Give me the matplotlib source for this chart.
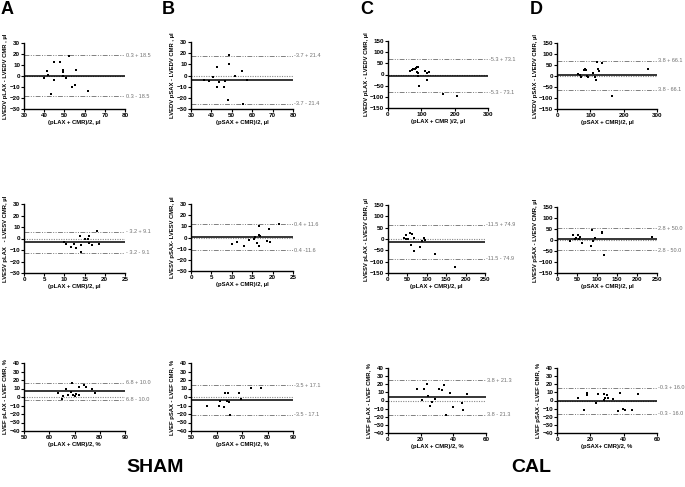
import matplotlib
matplotlib.use("Agg")
import matplotlib.pyplot as plt

plt.rcParams['font.family'] = ['Liberation Sans', 'DejaVu Sans']

W, H = 685, 487

# ---------------- data ----------------
# Row 1: LVEDV
A1_x = [39.7, 41.4, 41.7, 44.7, 44.9, 43.4, 47.8, 49.5, 49.5, 49.5, 50.8, 52.3, 53.9, 55.2, 55.9, 61.8]
A1_y = [-1.7, 4.1, 0.7, 12.8, -3.5, -16.7, 12.8, 5.3, 3.5, -0.2, -1.4, 18.2, -9.8, -8.3, 5.0, -13.4]
B1_x = [36.4, 38.7, 40.8, 42.9, 42.7, 43.9, 46.2, 46.9, 48.0, 48.5, 48.5, 51.6, 55.2, 55.5, 57.5]
B1_y = [-4.2, -4.5, -1.2, 7.5, -10.2, -6.0, -10.5, -5.1, -21.6, 18.3, 10.5, 0.0, 3.6, -25.8, -3.9]
C1_x = [65, 70.5, 75.5, 80.5, 83.6, 87.6, 90.6, 85.6, 90.6, 90.6, 93, 110.8, 117.8, 121.9, 115.8, 166, 208.5]
C1_y = [16.5, 18, 22.5, 25.5, 30, 31.5, 33, 12, 4.5, -4.5, -51, 15, 7.5, 10.5, -22.5, -87, -94.5]
D1_x = [63, 68.5, 71.5, 79.5, 83.6, 86.6, 88.6, 92.6, 108.8, 113.8, 116.8, 119.8, 121.8, 126.9, 133.9, 164, 272]
D1_y = [9, 3, -3, 27, 30, 27, -1.5, -6, 15, -6, -16.5, 62, 30, 21, 58, -89, 32]
# Row 2: LVESV
A2_x = [9.8, 10.4, 11.7, 12.4, 12.8, 13.9, 14.0, 14.1, 15.1, 15.8, 16.0, 16.2, 16.8, 18.0, 18.6]
A2_y = [-3.1, -4.8, -7.8, -4.8, -8.0, 2.5, -6.0, -11.6, -0.4, -0.4, 1.9, -4.2, -6.0, 6.3, -5.1]
B2_x = [10.0, 11.2, 12.9, 14.3, 15.5, 15.7, 16.6, 16.6, 16.8, 16.1, 16.6, 18.6, 19.4, 19.2, 21.5]
B2_y = [-6.1, -4.0, -7.8, -1.9, -1.0, 0.4, 10.2, 2.2, 1.0, -4.9, -7.5, -3.4, -4.3, 7.8, 12.0]
C2_x = [40, 46, 46, 51, 56, 62, 59, 66, 67, 83, 88, 93, 96, 121, 172]
C2_y = [5, 15.5, 0.7, -0.7, 26, 24, -26, -52, 5, -35, -11, 5, -5, -67, -123]
D2_x = [33.6, 40.3, 44.5, 48.7, 52.8, 57, 54.5, 63, 84.7, 88, 90, 95, 111.6, 111.6, 116.6, 237.4]
D2_y = [-3, 21, 4.5, 10.6, 22.7, 15, 4.5, -13.6, -27, 44, -3, 10.6, 38, 33, -70, 12]
# Row 3: LVEF
A3_x = [63.6, 65.2, 65.5, 66.7, 67.6, 68.7, 69.2, 69.6, 70.1, 70.5, 71.6, 71.7, 73.8, 74.5, 76.9, 78.2]
A3_y = [4.5, -2.2, 0.6, 9.7, 2.6, 5.3, 16.4, 2.6, 0.6, 4.1, 11.2, 2.2, 14.4, 11.2, 8.9, 4.5]
B3_x = [56.3, 60.8, 61.4, 63.1, 63.5, 64.6, 64.0, 65.0, 65.3, 69.0, 69.5, 73.6, 77.4]
B3_y = [-10.3, -11.1, -4.4, -12.3, 4.4, 5.1, -4.4, -6.3, -21.0, 4.4, -2.0, 10.3, 10.3]
C3_x = [17.6, 21.0, 22.0, 24.1, 24.5, 25.9, 27.1, 29.0, 31.4, 33.3, 34.5, 35.7, 38.2, 39.6, 45.3, 45.7, 48.4]
C3_y = [13.6, 0.2, 13.6, 20.9, 5.1, -6.3, -1.4, 1.4, 14.4, 12.4, 18.5, -18.1, 9.5, -7.5, -3.0, -11.6, 7.5]
D3_x = [12.3, 16.3, 18.1, 18.1, 23.2, 24.6, 28.0, 28.4, 28.8, 30.2, 30.8, 33.4, 36.4, 37.9, 39.9, 40.9, 44.9, 48.9]
D3_y = [3.5, -11.2, 9.5, 6.3, -3.5, 7.9, 7.9, 1.0, 2.6, 7.1, 3.5, 1.8, -12.4, 8.7, -10.0, -12.0, -12.0, 8.3]

# bias and 1.96*SD per panel
bias = {'A1': 0.3, 'B1': -3.7, 'C1': -5.3, 'D1': 3.8,
        'A2': -3.2, 'B2': 0.4, 'C2': -11.5, 'D2': 2.8,
        'A3': 6.8, 'B3': -3.5, 'C3': 3.8, 'D3': -0.3}
loa = {'A1': 18.5, 'B1': 21.4, 'C1': 73.1, 'D1': 66.1,
       'A2': 9.1, 'B2': 11.6, 'C2': 74.9, 'D2': 50.0,
       'A3': 10.0, 'B3': 17.1, 'C3': 21.3, 'D3': 16.0}
upper_txt = {'A1': '0.3 + 18.5', 'B1': '-3.7 + 21.4', 'C1': '-5.3 + 73.1', 'D1': '3.8 + 66.1',
             'A2': '- 3.2 + 9.1', 'B2': '0.4 + 11.6', 'C2': '-11.5 + 74.9', 'D2': '2.8 + 50.0',
             'A3': '6.8 + 10.0', 'B3': '-3.5 + 17.1', 'C3': '3.8 + 21.3', 'D3': '-0.3 + 16.0'}
lower_txt = {'A1': '0.3 - 18.5', 'B1': '-3.7 - 21.4', 'C1': '-5.3 - 73.1', 'D1': '3.8 - 66.1',
             'A2': '- 3.2 - 9.1', 'B2': '0.4 -11.6', 'C2': '-11.5 - 74.9', 'D2': '2.8 - 50.0',
             'A3': '6.8 - 10.0', 'B3': '-3.5 - 17.1', 'C3': '3.8 - 21.3', 'D3': '-0.3 - 16.0'}

xlabels = {'A1': '(pLAX + CMR)/2, µl', 'B1': '(pSAX + CMR)/2, µl',
           'C1': '(pLAX + CMR )/2, µl', 'D1': '(pSAX + CMR)/2, µl',
           'A2': '(pLAX + CMR)/2, µl', 'B2': '(pSAX + CMR)/2, µl',
           'C2': '(pLAX + CMR)/2, µl', 'D2': '(pSAX + CMR)/2, µl',
           'A3': '(pLAX + CMR)/2, %', 'B3': '(pSAX + CMR)/2, %',
           'C3': '(pLAX + CMR)/2, %', 'D3': '(pSAX+ CMR)/2, %'}
ylabels = {'A1': 'LVEDV pLAX - LVEDV CMR , µl', 'B1': 'LVEDV pSAX - LVEDV CMR , µl',
           'C1': 'LVEDV pLAX - LVEDV CMR, µl', 'D1': 'LVEDV pSAX - LVEDV CMR, µl',
           'A2': 'LVESV pLAX   - LVESV CMR, µl', 'B2': 'LVESV pSAX- LVESV CMR, µl',
           'C2': 'LVESV pLAX - LVESV CMR, µl', 'D2': 'LVESV pSAX - LVESV CMR, µl',
           'A3': 'LVEF pLAX - LVEF CMR, %', 'B3': 'LVEF pSAX - LVEF CMR, %',
           'C3': 'LVEF pLAX - LVEF CMR, %', 'D3': 'LVEF pSAX - LVEF CMR, %'}

xticks = {'A1': [30, 40, 50, 60, 70, 80], 'B1': [30, 40, 50, 60, 70, 80],
          'C1': [0, 100, 200, 300], 'D1': [0, 100, 200, 300],
          'A2': [0, 5, 10, 15, 20, 25], 'B2': [0, 5, 10, 15, 20, 25],
          'C2': [0, 50, 100, 150, 200, 250], 'D2': [0, 50, 100, 150, 200, 250],
          'A3': [50, 60, 70, 80, 90], 'B3': [50, 60, 70, 80, 90],
          'C3': [0, 20, 40, 60], 'D3': [0, 20, 40, 60]}
yt30 = [-30, -20, -10, 0, 10, 20, 30]
yt150 = [-150, -100, -50, 0, 50, 100, 150]
yt40 = [-40, -30, -20, -10, 0, 10, 20, 30, 40]
yticks = {'A1': yt30, 'B1': yt30, 'C1': yt150, 'D1': yt150,
          'A2': yt30, 'B2': yt30, 'C2': yt150, 'D2': yt150,
          'A3': yt40, 'B3': yt40, 'C3': yt40, 'D3': yt40}

series = {'A1': (A1_x, A1_y), 'B1': (B1_x, B1_y), 'C1': (C1_x, C1_y), 'D1': (D1_x, D1_y),
          'A2': (A2_x, A2_y), 'B2': (B2_x, B2_y), 'C2': (C2_x, C2_y), 'D2': (D2_x, D2_y),
          'A3': (A3_x, A3_y), 'B3': (B3_x, B3_y), 'C3': (C3_x, C3_y), 'D3': (D3_x, D3_y)}

# axes boxes in pixels (x0, x1, y0_top, y1_bottom)
boxes = {'A1': (24, 125, 43, 109), 'B1': (191, 293, 42, 109), 'C1': (388, 488, 41, 108), 'D1': (557, 657, 43, 109),
         'A2': (24, 125, 204, 273), 'B2': (191, 293, 204, 271), 'C2': (388, 485, 205, 273), 'D2': (557, 657, 207, 273),
         'A3': (24, 125, 363, 431), 'B3': (191, 293, 363, 431), 'C3': (388, 486, 368, 433), 'D3': (557, 657, 368, 433)}

fig = plt.figure(figsize=(W / 100, H / 100), dpi=100)

FS = 4.2
lim_style = (0, (5, 1.5, 1, 1.5, 1, 1.5))
for key, (x0, x1, y0, y1) in boxes.items():
    ax = fig.add_axes([x0 / W, 1 - y1 / H, (x1 - x0) / W, (y1 - y0) / H])
    xs, ys = series[key]
    xt, yt = xticks[key], yticks[key]
    ax.set_xlim(xt[0], xt[-1])
    ax.set_ylim(yt[0], yt[-1])
    ax.set_xticks(xt)
    ax.set_yticks(yt)
    b, l = bias[key], loa[key]
    ax.axhline(0, color='#888888', lw=0.8, ls=(0, (1, 1.2)), zorder=1)
    ax.axhline(b, color='black', lw=1.1, zorder=2)
    ax.axhline(b + l, color='#808080', lw=0.7, ls=lim_style, zorder=1)
    ax.axhline(b - l, color='#808080', lw=0.7, ls=lim_style, zorder=1)
    ax.scatter(xs, ys, s=3, c='black', marker='s', zorder=3, linewidths=0)
    ax.text(1.012, b + l, upper_txt[key], transform=ax.get_yaxis_transform(),
            fontsize=4.0, color='#707070', va='center', ha='left', clip_on=False)
    ax.text(1.012, b - l, lower_txt[key], transform=ax.get_yaxis_transform(),
            fontsize=4.0, color='#707070', va='center', ha='left', clip_on=False)
    for s in ['top', 'right']:
        ax.spines[s].set_visible(False)
    for s in ['left', 'bottom']:
        ax.spines[s].set_linewidth(1.0)
    ax.tick_params(axis='both', direction='out', length=2, width=0.8, labelsize=FS + 0.3, pad=0.8)
    for lab in ax.get_xticklabels() + ax.get_yticklabels():
        lab.set_fontweight('bold')
    ax.set_xlabel(xlabels[key], fontsize=FS, fontweight='bold', labelpad=1.5)
    ax.set_ylabel(ylabels[key], fontsize=FS, fontweight='bold', labelpad=1.0)

for letter, px in zip(['A', 'B', 'C', 'D'], [1, 162, 360, 530]):
    fig.text(px / W, 1 - 10 / H, letter, fontsize=13, fontweight='bold', va='center', ha='left')
fig.text(155 / W, 1 - 468 / H, 'SHAM', fontsize=14, fontweight='bold', va='center', ha='center')
fig.text(531 / W, 1 - 468 / H, 'CAL', fontsize=14, fontweight='bold', va='center', ha='center')

fig.savefig('out.png', dpi=100)
